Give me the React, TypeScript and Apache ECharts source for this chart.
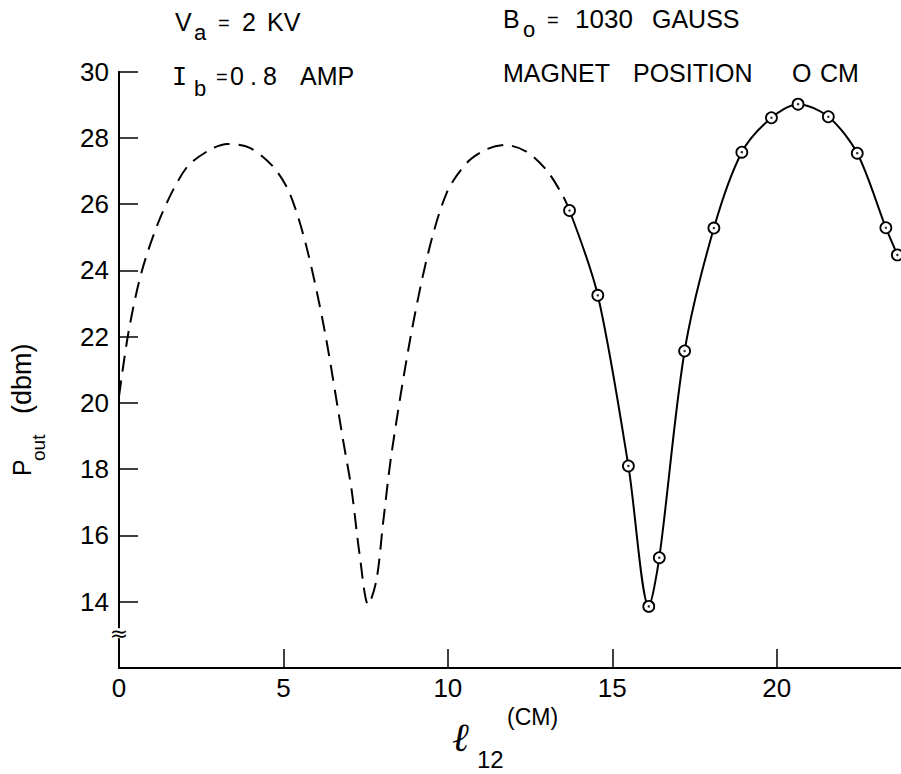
import React, { useEffect, useRef } from "react";
import * as echarts from "echarts";

// Dashed (calculated) curve
const dashedX = [0, 0.3, 0.7, 1.3, 2.05, 2.76, 3.3, 3.98, 4.69, 5.19, 5.7, 6.25, 6.81, 7.07, 7.32, 7.58, 7.83, 8.03, 8.29, 8.85, 9.4, 9.96, 10.57, 11.18, 11.73, 12.39, 13.0, 13.51, 13.7];
const dashedY = [20.2, 22.2, 24.0, 25.7, 27.1, 27.64, 27.82, 27.7, 27.13, 26.33, 24.72, 22.2, 18.9, 17.4, 15.4, 13.91, 14.66, 16.37, 18.49, 21.9, 24.52, 26.33, 27.24, 27.66, 27.79, 27.59, 27.03, 26.23, 25.81];

// Measured points (circles)
const measX = [13.7, 14.56, 15.49, 16.11, 16.43, 17.2, 18.09, 18.94, 19.84, 20.65, 21.57, 22.45, 23.32, 23.67];
const measY = [25.81, 23.25, 18.1, 13.86, 15.33, 21.57, 25.28, 27.57, 28.61, 29.02, 28.64, 27.54, 25.29, 24.47];

const xTicks = [0, 5, 10, 15, 20];
const yTicks = [14, 16, 18, 20, 22, 24, 26, 28, 30];

const FONT = "Liberation Sans";

export default function App() {
  const ref = useRef<HTMLDivElement>(null);
  useEffect(() => {
    if (!ref.current) return;
    const chart = echarts.init(ref.current, undefined, { renderer: "svg" });
    const dashed = dashedX.map((x, i) => [x, dashedY[i]]);
    const meas = measX.map((x, i) => [x, measY[i]]);
    let n = 0;
    const txt = (text: string, x: number, y: number, size: number, extra: any = {}) => ({
      type: "text",
      id: "t" + n++,
      x,
      y,
      rotation: extra.rotation || 0,
      style: {
        text,
        fontSize: size,
        fontFamily: extra.fontFamily || FONT,
        fontStyle: extra.fontStyle || "normal",
        fill: "#000",
        align: extra.align || "left",
        verticalAlign: "middle",
      },
    });
    chart.setOption({
      animation: false,
      backgroundColor: "#fff",
      grid: { left: 119, right: 0, top: 71.7, bottom: 106, containLabel: false },
      xAxis: {
        type: "value",
        min: 0,
        max: 23.78,
        interval: 5,
        axisLine: { onZero: false, lineStyle: { color: "#000", width: 2 } },
        axisTick: { inside: true, length: 19, lineStyle: { color: "#000", width: 1.5 }, customValues: xTicks },
        axisLabel: { color: "#000", fontSize: 26, fontFamily: FONT, margin: 7, customValues: xTicks },
        splitLine: { show: false },
      },
      yAxis: {
        type: "value",
        min: 12,
        max: 30,
        interval: 2,
        axisLine: { onZero: false, lineStyle: { color: "#000", width: 2 } },
        axisTick: { inside: true, length: 19, lineStyle: { color: "#000", width: 1.5 }, customValues: yTicks },
        axisLabel: { color: "#000", fontSize: 26, fontFamily: FONT, margin: 10, customValues: yTicks },
        splitLine: { show: false },
      },
      series: [
        {
          type: "line",
          data: dashed,
          smooth: 0.3,
          showSymbol: false,
          symbol: "none",
          lineStyle: { color: "#000", width: 2, type: [16, 9] },
          silent: true,
        },
        {
          type: "line",
          data: meas,
          smooth: 0.3,
          symbol: "circle",
          symbolSize: 11,
          showSymbol: true,
          itemStyle: { color: "#fff", borderColor: "#000", borderWidth: 1.8 },
          lineStyle: { color: "#000", width: 2 },
          silent: true,
          z: 3,
        },
        {
          type: "scatter",
          data: meas,
          symbol: "circle",
          symbolSize: 2.5,
          itemStyle: { color: "#000" },
          silent: true,
          z: 4,
        },
      ],
      graphic: [
        // V_a = 2 KV
        txt("V", 175, 22, 25),
        txt("a", 194, 32, 22),
        txt("=", 218, 23, 20),
        txt("2", 242, 22, 25),
        txt("KV", 267, 22, 25),
        // I_b = 0.8 AMP
        txt("I", 172, 76, 25, { fontFamily: "DejaVu Sans Mono" }),
        txt("b", 194, 88, 22),
        txt("=", 216, 77, 20),
        txt("0", 230, 76, 25),
        txt(".", 250, 76, 25),
        txt("8", 263, 76, 25),
        txt("AMP", 300, 76, 25),
        // B_o = 1030 GAUSS
        txt("B", 503, 19, 25),
        txt("o", 523, 29, 22),
        txt("=", 547, 20, 20),
        txt("1030", 575, 19, 26),
        txt("GAUSS", 652, 19, 25),
        // MAGNET POSITION O CM
        txt("MAGNET", 503, 73, 25),
        txt("POSITION", 633, 73, 25),
        txt("O", 792, 73, 25),
        txt("CM", 820, 73, 25),
        // x axis title
        txt("ℓ", 452, 737, 40, { fontFamily: "DejaVu Serif", fontStyle: "italic" }),
        txt("12", 477, 759, 24),
        txt("(CM)", 507, 717, 23),
        // y axis title (rotated)
        txt("P", 22, 476, 25, { rotation: Math.PI / 2 }),
        txt("out", 38, 461, 19, { rotation: Math.PI / 2 }),
        txt("(dbm)", 22, 414, 27, { rotation: Math.PI / 2 }),
      ],
    });
    // axis break symbol on the y axis
    const p = chart.convertToPixel({ gridIndex: 0 }, [0, 13.05]) as number[];
    chart.setOption({
      graphic: [
        {
          type: "rect",
          id: "brkRect",
          shape: { x: p[0] - 3, y: p[1] - 5, width: 6, height: 10 },
          style: { fill: "#fff" },
          z: 10,
        },
        {
          type: "text",
          id: "brkText",
          x: p[0],
          y: p[1],
          z: 11,
          style: { text: "≈", fontSize: 22, fontFamily: "DejaVu Sans", fill: "#000", align: "center", verticalAlign: "middle" },
        },
      ],
    });
    return () => chart.dispose();
  }, []);
  return <div ref={ref} style={{ position: "absolute", left: 0, top: 0, width: 901, height: 774 }} />;
}
